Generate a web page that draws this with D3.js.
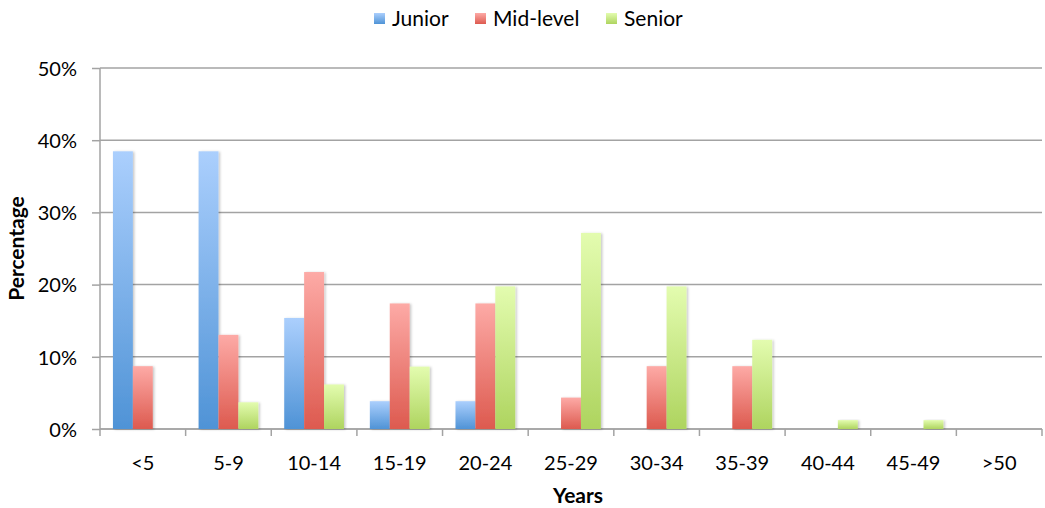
<!DOCTYPE html>
<html>
<head>
<meta charset="utf-8">
<script src="https://cdn.jsdelivr.net/npm/d3@7"></script>
<style>
  html, body { margin: 0; padding: 0; background: #fff; }
  svg text { font-family: Lato, "Open Sans", sans-serif; fill: #000; }
</style>
</head>
<body>
<svg id="chart" width="1045" height="508"></svg>
<script>
// Share of respondents in each years-of-experience band, by seniority level (percent)
const categories = ["<5", "5-9", "10-14", "15-19", "20-24", "25-29", "30-34", "35-39", "40-44", "45-49", ">50"];
const seriesNames = ["Junior", "Mid-level", "Senior"];
const junior   = [38.46, 38.46, 15.38, 3.85, 3.85, 0, 0, 0, 0, 0, 0];
const midLevel = [8.70, 13.04, 21.74, 17.39, 17.39, 4.35, 8.70, 8.70, 0, 0, 0];
const senior   = [0, 3.70, 6.17, 8.64, 19.75, 27.16, 19.75, 12.35, 1.23, 1.23, 0];
const yTicks = [0, 10, 20, 30, 40, 50];

const series = [junior, midLevel, senior];
const colors = [
  { top: "#abcffd", bottom: "#4f93d6" },
  { top: "#fdaaa6", bottom: "#dd5a4f" },
  { top: "#e3fcaf", bottom: "#aed45f" }
];

const svg = d3.select("#chart");
const margin = { left: 100, right: 3, top: 68, bottom: 79 };
const W = 1045, H = 508;

const x = d3.scaleBand().domain(categories).range([margin.left, W - margin.right]).paddingInner(0).paddingOuter(0);
const x1 = d3.scaleBand().domain(seriesNames).range([0, x.bandwidth()]).paddingInner(0).paddingOuter(0.65);
const y = d3.scaleLinear().domain([0, 50]).range([H - margin.bottom, margin.top]);

const defs = svg.append("defs");
colors.forEach((c, i) => {
  const g = defs.append("linearGradient").attr("id", "grad" + i)
    .attr("x1", 0).attr("y1", 0).attr("x2", 0).attr("y2", 1);
  g.append("stop").attr("offset", "0%").attr("stop-color", c.top);
  g.append("stop").attr("offset", "100%").attr("stop-color", c.bottom);
});
const f = defs.append("filter").attr("id", "shadow").attr("x", "-30%").attr("y", "-10%").attr("width", "160%").attr("height", "120%");
f.append("feDropShadow").attr("dx", 1.5).attr("dy", 0.5).attr("stdDeviation", 1.2).attr("flood-color", "#000").attr("flood-opacity", 0.22);

// Gridlines
svg.append("g").selectAll("line").data(yTicks).join("line")
  .attr("x1", margin.left).attr("x2", W - margin.right)
  .attr("y1", d => y(d)).attr("y2", d => y(d))
  .attr("stroke", "#a3a3a3").attr("stroke-width", 1.5);

// Y axis
const yAxis = svg.append("g").attr("transform", `translate(${margin.left},0)`)
  .call(d3.axisLeft(y).tickValues(yTicks).tickFormat(d => d + "%").tickSize(8).tickPadding(15));
yAxis.select(".domain").attr("stroke", "#a3a3a3").attr("stroke-width", 1.5).attr("d", `M0,${y(50)}V${y(0)}`);
yAxis.selectAll(".tick line").attr("stroke", "#a3a3a3").attr("stroke-width", 1.5);
yAxis.selectAll(".tick text").attr("font-size", 20).attr("font-family", "Lato, sans-serif").attr("dy", "0.36em");

// X axis (ticks between categories)
const xAxisG = svg.append("g").attr("transform", `translate(0,${y(0)})`);
xAxisG.append("line").attr("x1", margin.left).attr("x2", W - margin.right)
  .attr("stroke", "#a3a3a3").attr("stroke-width", 1.5);
const boundaries = categories.map(c => x(c)).concat([x(categories[categories.length - 1]) + x.bandwidth()]);
xAxisG.selectAll("line.tk").data(boundaries).join("line").attr("class", "tk")
  .attr("x1", d => d).attr("x2", d => d).attr("y1", 0).attr("y2", 7)
  .attr("stroke", "#a3a3a3").attr("stroke-width", 1.5);
xAxisG.selectAll("text").data(categories).join("text")
  .attr("x", d => x(d) + x.bandwidth() / 2).attr("y", 41)
  .attr("text-anchor", "middle").attr("font-size", 20).text(d => d);

// Bars
series.forEach((vals, si) => {
  svg.append("g").selectAll("rect").data(vals.map((v, i) => ({ v, c: categories[i] })).filter(d => d.v > 0)).join("rect")
    .attr("x", d => x(d.c) + x1(seriesNames[si]))
    .attr("width", x1.bandwidth())
    .attr("y", d => y(d.v))
    .attr("height", d => y(0) - y(d.v))
    .attr("fill", `url(#grad${si})`)
    .attr("filter", "url(#shadow)");
});

// Axis titles
svg.append("text").attr("transform", `translate(24,${(y(0) + y(50)) / 2}) rotate(-90)`)
  .attr("text-anchor", "middle").attr("font-size", 21).attr("font-weight", "bold").text("Percentage");
svg.append("text").attr("x", 578).attr("y", 503)
  .attr("text-anchor", "middle").attr("font-size", 21).attr("font-weight", "bold").text("Years");

// Legend
const legendX = [374, 475, 606];
const legend = svg.append("g");
seriesNames.forEach((name, i) => {
  legend.append("rect").attr("x", legendX[i]).attr("y", 13).attr("width", 11).attr("height", 11)
    .attr("fill", `url(#grad${i})`);
  legend.append("text").attr("x", legendX[i] + 18).attr("y", 26).attr("font-size", 21).text(name);
});
</script>
</body>
</html>
